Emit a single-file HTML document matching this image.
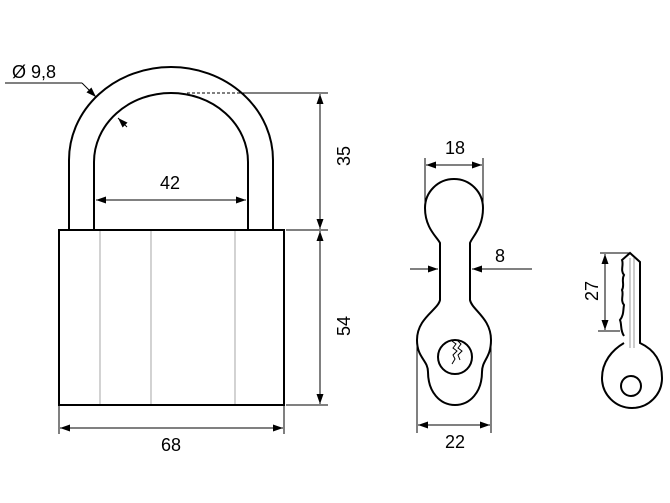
<!DOCTYPE html>
<html><head><meta charset="utf-8"><style>html,body{margin:0;padding:0;background:#fff}svg{display:block}text{font-family:"Liberation Sans",sans-serif;font-size:18px;fill:#000}</style></head><body>
<svg width="670" height="503" viewBox="0 0 670 503" xmlns="http://www.w3.org/2000/svg">
<defs>
<marker id="a" viewBox="0 0 10 10" refX="10" refY="5" markerWidth="10" markerHeight="10" markerUnits="userSpaceOnUse" orient="auto-start-reverse"><path d="M0,1.5 L10,5 L0,8.5 z" fill="#000"/></marker>
</defs>
<g fill="none" stroke="#000" stroke-width="2">
<path d="M69,230 V160 A102,93 0 0 1 273,160 V230"/>
<path d="M94,230 V162 A77,69 0 0 1 248,162 V230"/>
<rect x="59" y="230" width="225" height="175"/>
</g>
<g stroke="#bbb" stroke-width="1.3">
<line x1="100" y1="231" x2="100" y2="404"/><line x1="151" y1="231" x2="151" y2="404"/><line x1="235" y1="231" x2="235" y2="404"/>
</g>
<g stroke="#000" stroke-width="1" fill="none">
<line x1="5" y1="83" x2="82" y2="83"/><line x1="82" y1="83" x2="96" y2="97" marker-end="url(#a)"/>
<line x1="127" y1="127" x2="118" y2="118" marker-end="url(#a)"/>
<line x1="187" y1="93" x2="240" y2="93" stroke-dasharray="3,2"/>
<line x1="240" y1="93" x2="328" y2="93"/>
<line x1="286" y1="230" x2="328" y2="230"/>
<line x1="286" y1="405" x2="328" y2="405"/>
<line x1="320" y1="94" x2="320" y2="229" marker-start="url(#a)" marker-end="url(#a)"/>
<line x1="320" y1="231" x2="320" y2="404" marker-start="url(#a)" marker-end="url(#a)"/>
<line x1="96" y1="200" x2="246" y2="200" marker-start="url(#a)" marker-end="url(#a)"/>
<line x1="59" y1="406" x2="59" y2="434"/><line x1="284" y1="406" x2="284" y2="434"/>
<line x1="60" y1="428" x2="283" y2="428" marker-start="url(#a)" marker-end="url(#a)"/>
</g>
<text x="12" y="78">Ø 9,8</text>
<text x="170" y="189" text-anchor="middle">42</text>
<text x="171" y="451" text-anchor="middle">68</text>
<text transform="translate(350,156) rotate(-90)" text-anchor="middle">35</text>
<text transform="translate(350,326) rotate(-90)" text-anchor="middle">54</text>
<g fill="none" stroke="#000" stroke-width="2">
<path d="M440,243 C437,237 425,228 425,208 A29,29 0 0 1 483,208 C483,228 472,237 470,243 V300 C472,310 491,318 491,340 C491,358 482,360 482,372 C482,392 470,405 455,405 C440,405 428,392 428,372 C428,360 417,358 417,340 C417,318 438,310 440,300 Z"/>
<circle cx="455" cy="357" r="17"/>
</g>
<path d="M452,341 L456,344 L453,348 L457,351 L453,355 L455,359 L452,364" fill="none" stroke="#000" stroke-width="1"/>
<path d="M457,340 L461,344 L458,348 L462,351 L458,355 L460,360" fill="none" stroke="#000" stroke-width="1"/>
<g stroke="#000" stroke-width="1" fill="none">
<line x1="425" y1="158" x2="425" y2="205"/><line x1="483" y1="158" x2="483" y2="205"/>
<line x1="426" y1="165" x2="482" y2="165" marker-start="url(#a)" marker-end="url(#a)"/>
<line x1="410" y1="269" x2="438" y2="269" marker-end="url(#a)"/>
<line x1="532" y1="269" x2="472" y2="269" marker-end="url(#a)"/>
<line x1="417" y1="345" x2="417" y2="433"/><line x1="491" y1="345" x2="491" y2="433"/>
<line x1="418" y1="425" x2="490" y2="425" marker-start="url(#a)" marker-end="url(#a)"/>
</g>
<text x="455" y="154" text-anchor="middle">18</text>
<text x="500" y="262" text-anchor="middle">8</text>
<text x="455" y="448" text-anchor="middle">22</text>
<g fill="none" stroke="#000" stroke-width="2">
<path d="M624,336 C620,330 622,325 620,320 C624,315 623,310 624,305 C620,300 624,295 622,290 C625,285 621,280 624,275 C620,270 624,265 622,260 L630,253 L640,262 V343 C655,350 662,362 662,378 A30,30 0 0 1 602,378 C602,362 612,350 624,343"/>
<circle cx="631" cy="386" r="10"/>
</g>
<g stroke="#999" stroke-width="1"><line x1="630" y1="258" x2="630" y2="348"/><line x1="634" y1="258" x2="634" y2="348"/></g>
<g stroke="#000" stroke-width="1" fill="none">
<line x1="600" y1="253" x2="630" y2="253"/><line x1="598" y1="331" x2="620" y2="331"/>
<line x1="605" y1="254" x2="605" y2="330" marker-start="url(#a)" marker-end="url(#a)"/>
</g>
<text transform="translate(598,291) rotate(-90)" text-anchor="middle">27</text>
</svg>
</body></html>
